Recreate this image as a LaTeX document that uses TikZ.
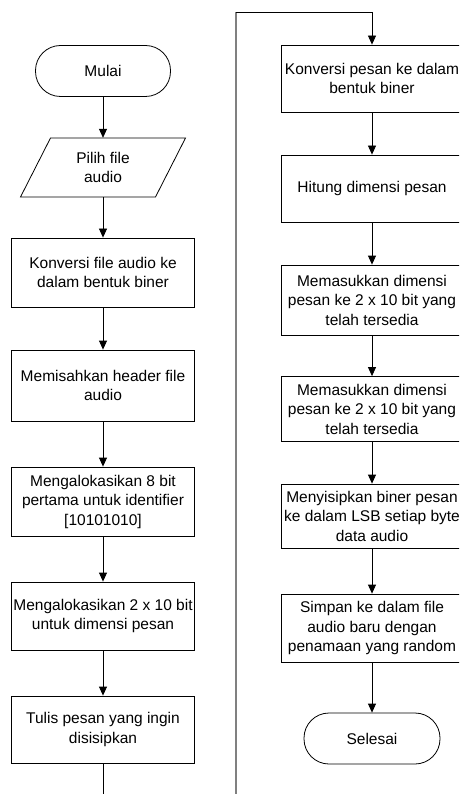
\documentclass[tikz,border=0pt]{standalone}
\usepackage{fontspec}
\setmainfont{Liberation Sans}
\usetikzlibrary{arrows.meta,calc}
\begin{document}
\begin{tikzpicture}[x=1pt,y=-1pt,
  every node/.style={font=\fontsize{15.5}{19.5}\selectfont, align=center},
  box/.style={draw, line width=0.8pt, minimum width=183pt, inner sep=1pt},
  rbox/.style={box, minimum width=182pt},
  term/.style={draw, line width=0.8pt, rounded corners=25pt, minimum width=135pt, minimum height=51pt},
  arr/.style={line width=0.8pt, -{Triangle[length=9pt,width=8pt]}},
  link/.style={line width=0.8pt},
  graylink/.style={line width=1.6pt, draw=black!50},
]
\useasboundingbox (0,0) rectangle (459,794);
\clip (0,0) rectangle (459,794);

% left column
\node[term] (start) at (103,71) {Mulai};
\node[minimum width=135pt, minimum height=59pt, inner sep=0pt] (in) at (103,167.5) {Pilih file\\audio};
\draw[link] ($(in.center)+(-82.5,29.5)$) -- ($(in.center)+(-52.5,-29.5)$)
  -- ($(in.center)+(82.5,-29.5)$) -- ($(in.center)+(52.5,29.5)$) -- cycle;
\node[box, minimum height=69pt] (b1) at (103,272.5) {Konversi file audio ke\\dalam bentuk biner};
\node[box, minimum height=71pt] (b2) at (103,385.5) {Memisahkan header file\\audio};
\node[box, minimum height=69pt] (b3) at (103,501.5) {Mengalokasikan 8 bit\\pertama untuk identifier\\{[}10101010{]}};
\node[box, minimum height=68pt] (b4) at (103,616) {Mengalokasikan 2 x 10 bit\\untuk dimensi pesan};
\node[box, minimum height=67pt] (b5) at (103,729.5) {Tulis pesan yang ingin\\disisipkan};

% right column
\node[rbox, minimum height=67pt] (r1) at (372,78.5) {Konversi pesan ke dalam\\bentuk biner};
\node[rbox, minimum height=67pt] (r2) at (372,188.5) {Hitung dimensi pesan};
\node[rbox, minimum height=70pt] (r3) at (372,300) {Memasukkan dimensi\\pesan ke 2 x 10 bit yang\\telah tersedia};
\node[rbox, minimum height=65pt] (r4) at (372,409) {Memasukkan dimensi\\pesan ke 2 x 10 bit yang\\telah tersedia};
\node[rbox, minimum height=64pt] (r5) at (372,516) {Menyisipkan biner pesan\\ke dalam LSB setiap byte\\data audio};
\node[rbox, minimum height=68pt] (r6) at (372,628) {Simpan ke dalam file\\audio baru dengan\\penamaan yang random};
\node[term, minimum width=136pt] (end) at (372,738.5) {Selesai};

% arrows
\draw[arr] (start) -- (in);
\draw[arr] (in) -- (b1);
\draw[arr] (b1) -- (b2);
\draw[arr] (b2) -- (b3);
\draw[arr] (b3) -- (b4);
\draw[arr] (b4) -- (b5);

\coordinate (c1) at (103,794);
\coordinate (c2) at (236,794);
\coordinate (c3) at (236,12);
\coordinate (c4) at (372,12);
\draw[link] (b5) -- (c1);
\draw[graylink] (c2) -- (c3);
\draw[arr] (c3) -- (c4) -- (r1);

\draw[arr] (r1) -- (r2);
\draw[arr] (r2) -- (r3);
\draw[arr] (r3) -- (r4);
\draw[arr] (r4) -- (r5);
\draw[arr] (r5) -- (r6);
\draw[arr] (r6) -- (end);
\end{tikzpicture}
\end{document}
